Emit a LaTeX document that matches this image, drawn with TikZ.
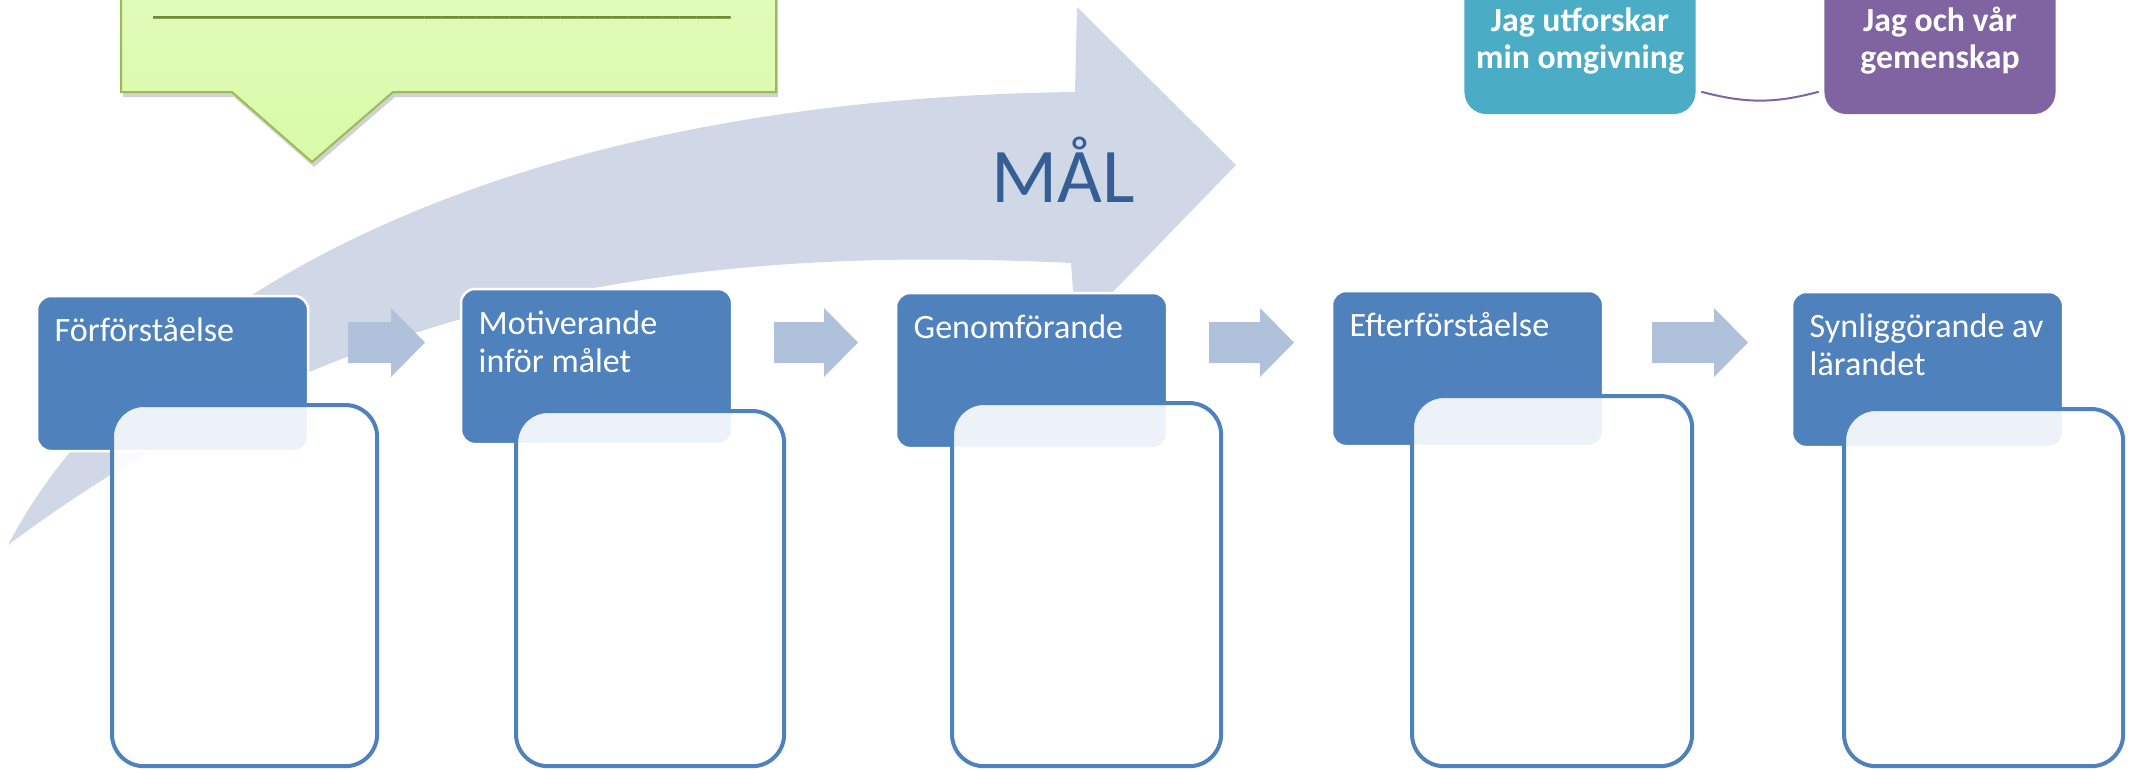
\documentclass[tikz,border=0pt]{standalone}
\usepackage{fontspec}
\setmainfont{Carlito}
\usetikzlibrary{shadows}

\definecolor{goalarrow}{RGB}{208,216,232}
\definecolor{steparrow}{RGB}{176,193,220}
\definecolor{phase}{RGB}{79,129,189}
\definecolor{goalink}{RGB}{52,94,148}
\definecolor{notetop}{RGB}{226,252,190}
\definecolor{notebottom}{RGB}{216,250,166}
\definecolor{noteedge}{RGB}{155,187,89}
\definecolor{noteline}{RGB}{110,138,52}
\definecolor{explore}{RGB}{75,172,198}
\definecolor{together}{RGB}{128,100,162}

\tikzset{
  phasebox/.style={draw=white,line width=0.025cm,fill=phase,rounded corners=0.14cm,
    minimum width=2.71cm,minimum height=1.55cm,anchor=north west,inner sep=0pt,outer sep=0pt},
  phasetext/.style={text=white,font=\fontsize{9.7}{10.8}\selectfont,align=left,anchor=base west,inner sep=0pt},
  workbox/.style={draw=phase,line width=0.04cm,fill=white,fill opacity=0.9,rounded corners=0.32cm,
    anchor=north west,inner sep=0pt,outer sep=0pt},
  themebox/.style={rounded corners=0.22cm,text=white,align=center,inner sep=0pt,
    font=\bfseries\fontsize{9.6}{10.5}\selectfont,minimum width=2.31cm,minimum height=1.46cm},
}

\begin{document}
\begin{tikzpicture}[x=0.01cm,y=-0.01cm]
\useasboundingbox (0,0) rectangle (2130,769);
\clip (0,0) rectangle (2130,769);
% big goal arrow
\fill[goalarrow] (8,545) .. controls (120,330) and (450,100) .. (1075,92) -- (1077,7) -- (1236,165)
  -- (1076,330) -- (1071,263) .. controls (700,245) and (350,290) .. (8,545) -- cycle;
\node[text=goalink,font=\fontsize{22}{26}\selectfont,anchor=base,inner sep=0pt] (goal) at (1063,202) {MÅL};
% step arrows
\foreach \a/\b in {348/425,774/858,1209/1294,1652/1748}
  \fill[steparrow] (\a,322) -- (\b-34,322) -- (\b-34,308) -- (\b,342.5) -- (\b-34,377) -- (\b-34,363) -- (\a,363) -- cycle;
% phases
\node[phasebox] (h1) at (37,296) {};
\node[phasebox] (h2) at (461,289) {};
\node[phasebox] (h3) at (896,293) {};
\node[phasebox] (h4) at (1332,291) {};
\node[phasebox] (h5) at (1792,292) {};
\node[phasetext] (t1) at ([xshift=0.17cm,yshift=-0.45cm]h1.north west) {Förförståelse};
\node[phasetext] (t2) at ([xshift=0.17cm,yshift=-0.83cm]h2.north west) {Motiverande\\inför målet};
\node[phasetext] (t3) at ([xshift=0.17cm,yshift=-0.45cm]h3.north west) {Genomförande};
\node[phasetext] (t4) at ([xshift=0.17cm,yshift=-0.45cm]h4.north west) {Efterförståelse};
\node[phasetext] (t5) at ([xshift=0.17cm,yshift=-0.83cm]h5.north west) {Synliggörande av\\lärandet};
\node[workbox,minimum width=2.65cm,minimum height=3.61cm] (w1) at (112,405) {};
\node[workbox,minimum width=2.68cm,minimum height=3.55cm] (w2) at (516,411) {};
\node[workbox,minimum width=2.69cm,minimum height=3.63cm] (w3) at (952,403) {};
\node[workbox,minimum width=2.80cm,minimum height=3.70cm] (w4) at (1412,396) {};
\node[workbox,minimum width=2.79cm,minimum height=3.57cm] (w5) at (1844,409) {};
% note callout
\draw[noteedge,line width=0.02cm,top color=notetop,bottom color=notebottom,
  drop shadow={shadow xshift=0.02cm,shadow yshift=-0.05cm,fill=black!45,opacity=0.4}]
  (121,-40) -- (776,-40) -- (776,92) -- (393,92) -- (312,162) -- (232,92) -- (121,92) -- cycle;
\node[text=noteline,font=\bfseries\fontsize{9.7}{10.8}\selectfont,anchor=base,inner sep=0pt] (blank) at (442,14)
  {\_\_\_\_\_\_\_\_\_\_\_\_\_\_\_\_\_\_\_\_\_\_\_\_\_\_\_\_\_\_\_\_\_\_};
% themes
\node[themebox,fill=explore] (explore) at (1580,41) {Jag utforskar\\min omgivning};
\node[themebox,fill=together] (community) at (1940,41) {Jag och vår\\gemenskap};
\draw[together,line width=0.02cm] ([xshift=0.05cm,yshift=0.23cm]explore.south east)
  to[bend right=15] ([xshift=-0.05cm,yshift=0.23cm]community.south west);
\end{tikzpicture}
\end{document}
